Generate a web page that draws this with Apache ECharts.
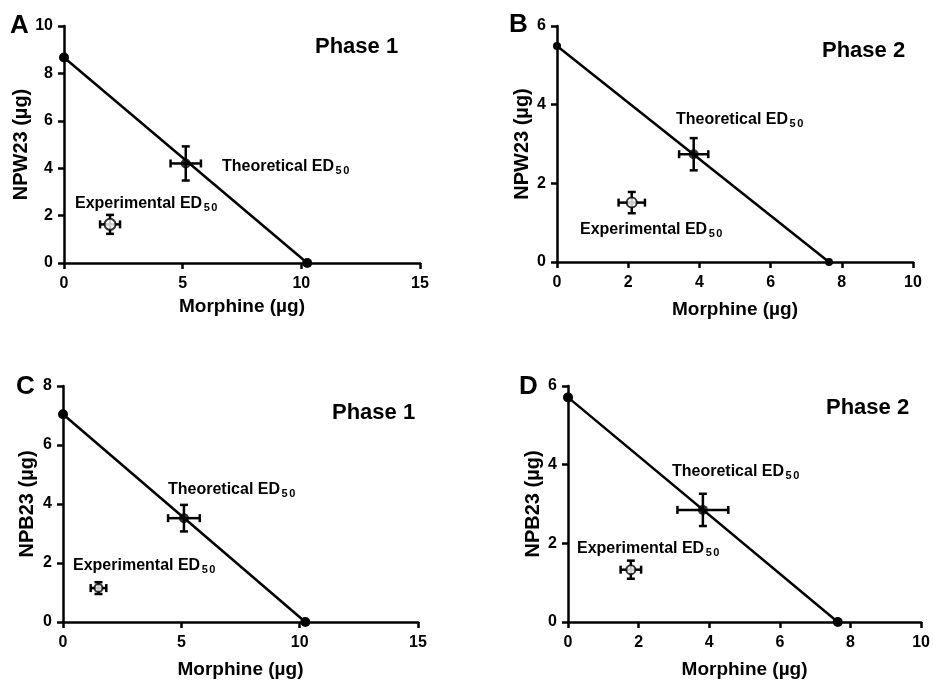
<!DOCTYPE html>
<html>
<head>
<meta charset="utf-8">
<script src="https://cdn.jsdelivr.net/npm/echarts@6/dist/echarts.min.js"></script>
<style>
html,body{margin:0;padding:0;background:#fff;}
#chart{width:933px;height:680px;}
</style>
</head>
<body>
<div id="chart"></div>
<script>
// ---- data ----
const panelLetters = ['A', 'B', 'C', 'D'];
const phaseLabels = ['Phase 1', 'Phase 2', 'Phase 1', 'Phase 2'];
const xAxisNames = ['Morphine (µg)', 'Morphine (µg)', 'Morphine (µg)', 'Morphine (µg)'];
const yAxisNames = ['NPW23 (µg)', 'NPW23 (µg)', 'NPB23 (µg)', 'NPB23 (µg)'];
const xMax = [15, 10, 15, 10];
const xInterval = [5, 2, 5, 2];
const yMax = [10, 6, 8, 6];
const yInterval = [2, 2, 2, 2];
// single-drug ED50 values (line end points)
const morphineED50 = [10.25, 7.64, 10.24, 7.64];
const peptideED50 = [8.67, 5.49, 7.04, 5.71];
// theoretical ED50 of the mixture
const theoX = [5.13, 3.84, 5.11, 3.82];
const theoXErr = [0.64, 0.41, 0.67, 0.72];
const theoY = [4.20, 2.74, 3.52, 2.85];
const theoYErr = [0.72, 0.41, 0.45, 0.41];
// experimental ED50 of the mixture
const expX = [1.94, 2.10, 1.50, 1.78];
const expXErr = [0.42, 0.37, 0.33, 0.29];
const expY = [1.63, 1.51, 1.15, 1.33];
const expYErr = [0.40, 0.27, 0.20, 0.23];

// ---- layout ----
const FONT = '"Liberation Sans", Arial, Helvetica, sans-serif';
const grids = [
  {left: 64, top: 26, width: 356, height: 237},
  {left: 557, top: 26, width: 356, height: 236},
  {left: 63, top: 386, width: 355, height: 236},
  {left: 568, top: 386, width: 355, height: 236}
];
const xNameGap = [34, 38, 38, 38];
const yNameGap = [31, 25, 26, 25];
const dotSize = [10, 8, 10, 10];
const openSize = [11, 10, 8, 9];
const theoPos = [[222, 167], [676, 120], [168, 490], [672, 472]];
const expPos = [[75, 204], [580, 230], [73, 566], [577, 549]];
const phasePos = [[315, 47], [822, 51], [332, 413], [826, 408]];
const letterPos = [[10, 26], [509, 25], [16, 387], [519, 387]];

const xAxes = [], yAxes = [], series = [], graphics = [];
const LW = 2.5;

function errRender(params, api) {
  const x = api.value(0), y = api.value(1), ex = api.value(2), ey = api.value(3);
  const cap = 4;
  const c = api.coord([x, y]);
  const xl = api.coord([x - ex, y]), xr = api.coord([x + ex, y]);
  const yb = api.coord([x, y - ey]), yt = api.coord([x, y + ey]);
  const st = {stroke: '#000', lineWidth: LW};
  return {
    type: 'group',
    children: [
      {type: 'line', shape: {x1: xl[0], y1: c[1], x2: xr[0], y2: c[1]}, style: st},
      {type: 'line', shape: {x1: xl[0], y1: c[1] - cap, x2: xl[0], y2: c[1] + cap}, style: st},
      {type: 'line', shape: {x1: xr[0], y1: c[1] - cap, x2: xr[0], y2: c[1] + cap}, style: st},
      {type: 'line', shape: {x1: c[0], y1: yb[1], x2: c[0], y2: yt[1]}, style: st},
      {type: 'line', shape: {x1: c[0] - cap, y1: yb[1], x2: c[0] + cap, y2: yb[1]}, style: st},
      {type: 'line', shape: {x1: c[0] - cap, y1: yt[1], x2: c[0] + cap, y2: yt[1]}, style: st}
    ]
  };
}

function edText(pos, word) {
  return {
    type: 'text', x: pos[0], y: pos[1], z: 100,
    style: {
      text: '{a|' + word + ' ED}{b|5}{b|0}',
      align: 'left', verticalAlign: 'middle',
      rich: {
        a: {fontSize: 16, fontWeight: 'bold', fontFamily: FONT, fill: '#000', lineHeight: 19},
        b: {fontSize: 11, fontWeight: 'bold', fontFamily: FONT, fill: '#000', lineHeight: 11,
            verticalAlign: 'bottom', padding: [0, 0, 0, 1.5]}
      }
    }
  };
}

for (let i = 0; i < 4; i++) {
  xAxes.push({
    gridIndex: i, type: 'value', min: 0, max: xMax[i], interval: xInterval[i],
    name: xAxisNames[i], nameLocation: 'middle', nameGap: xNameGap[i],
    nameTextStyle: {fontSize: 19, fontWeight: 'bold', fontFamily: FONT, color: '#000'},
    axisLine: {show: true, onZero: false, lineStyle: {color: '#000', width: LW}},
    axisTick: {show: true, length: 6, lineStyle: {color: '#000', width: LW}},
    axisLabel: {fontSize: 16, fontWeight: 'bold', fontFamily: FONT, color: '#000', margin: 13},
    splitLine: {show: false}
  });
  yAxes.push({
    gridIndex: i, type: 'value', min: 0, max: yMax[i], interval: yInterval[i],
    name: yAxisNames[i], nameLocation: 'middle', nameGap: yNameGap[i],
    nameTextStyle: {fontSize: 20, fontWeight: 'bold', fontFamily: FONT, color: '#000'},
    axisLine: {show: true, onZero: false, lineStyle: {color: '#000', width: LW}},
    axisTick: {show: true, length: 6, lineStyle: {color: '#000', width: LW}},
    axisLabel: {fontSize: 16, fontWeight: 'bold', fontFamily: FONT, color: '#000', margin: 11},
    splitLine: {show: false}
  });
  // additive line
  series.push({
    type: 'line', xAxisIndex: i, yAxisIndex: i, clip: false,
    data: [[0, peptideED50[i]], [morphineED50[i], 0]],
    symbol: 'circle', symbolSize: dotSize[i],
    itemStyle: {color: '#000'}, lineStyle: {color: '#000', width: LW},
    animation: false, z: 3
  });
  // error bars
  series.push({
    type: 'custom', xAxisIndex: i, yAxisIndex: i, clip: false,
    renderItem: errRender,
    data: [[theoX[i], theoY[i], theoXErr[i], theoYErr[i]], [expX[i], expY[i], expXErr[i], expYErr[i]]],
    animation: false, z: 4
  });
  // theoretical point
  series.push({
    type: 'scatter', xAxisIndex: i, yAxisIndex: i, clip: false,
    data: [[theoX[i], theoY[i]]], symbol: 'circle', symbolSize: 10,
    itemStyle: {color: '#000'}, animation: false, z: 5
  });
  // experimental point
  series.push({
    type: 'scatter', xAxisIndex: i, yAxisIndex: i, clip: false,
    data: [[expX[i], expY[i]]], symbol: 'circle', symbolSize: openSize[i],
    itemStyle: {color: '#fff', borderColor: '#000', borderWidth: 2}, animation: false, z: 5
  });
  graphics.push(edText(theoPos[i], 'Theoretical'));
  graphics.push(edText(expPos[i], 'Experimental'));
  graphics.push({
    type: 'text', x: phasePos[i][0], y: phasePos[i][1],
    style: {text: phaseLabels[i], fontSize: 22, fontWeight: 'bold', fontFamily: FONT, fill: '#000', align: 'left', verticalAlign: 'middle'}
  });
  graphics.push({
    type: 'text', x: letterPos[i][0], y: letterPos[i][1],
    style: {text: panelLetters[i], fontSize: 26, fontWeight: 'bold', fontFamily: FONT, fill: '#000', align: 'left', verticalAlign: 'middle'}
  });
}

const chart = echarts.init(document.getElementById('chart'), null, {renderer: 'canvas'});
chart.setOption({
  backgroundColor: '#fff',
  animation: false,
  grid: grids,
  xAxis: xAxes,
  yAxis: yAxes,
  series: series,
  graphic: graphics
});
</script>
</body>
</html>
